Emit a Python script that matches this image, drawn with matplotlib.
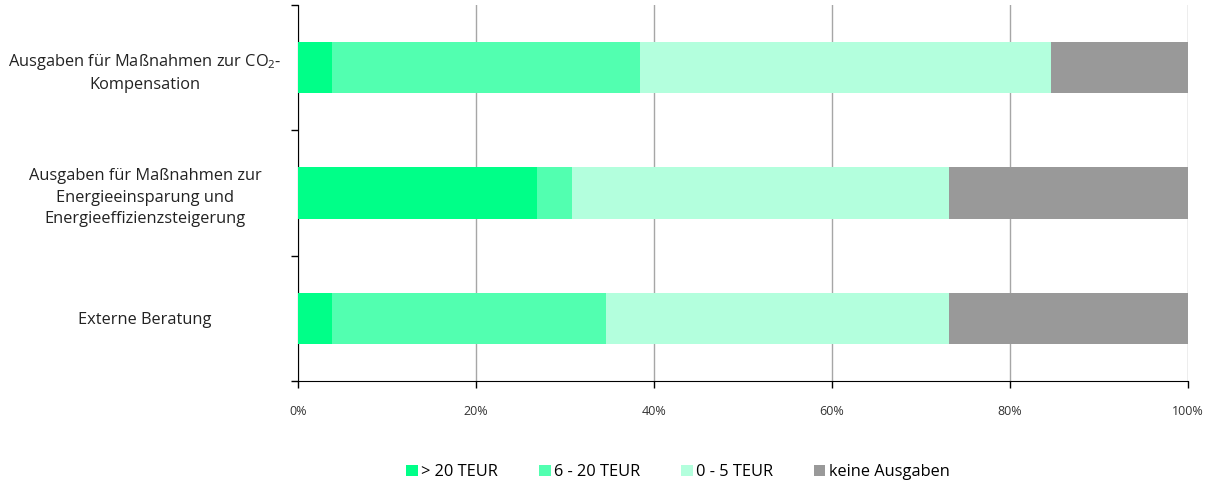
import matplotlib
matplotlib.use("Agg")
from matplotlib import pyplot as plt
import numpy as np

plt.rcParams['font.family'] = ['Open Sans', 'DejaVu Sans']

categories = ['Ausgaben für Maßnahmen zur CO$_\\mathregular{2}$-\nKompensation',
              'Ausgaben für Maßnahmen zur\nEnergieeinsparung und\nEnergieeffizienzsteigerung',
              'Externe Beratung']
series_names = ['> 20 TEUR', '6 - 20 TEUR', '0 - 5 TEUR', 'keine Ausgaben']
over_20 = [3.8, 26.9, 3.8]
from_6_to_20 = [34.6, 3.9, 30.8]
from_0_to_5 = [46.2, 42.3, 38.5]
no_spending = [15.4, 26.9, 26.9]
x_ticks = [0, 20, 40, 60, 80, 100]
x_tick_labels = ['0%', '20%', '40%', '60%', '80%', '100%']

colors = ['#00ff88', '#52ffb0', '#b3ffdd', '#999999']

fig = plt.figure(figsize=(12.07, 4.84), dpi=100)
ax = fig.add_axes([298 / 1207, 1 - 381 / 484, 890 / 1207, 376 / 484])

y = np.arange(len(categories))
left = np.zeros(len(categories))
for vals, name, col in zip([over_20, from_6_to_20, from_0_to_5, no_spending], series_names, colors):
    ax.barh(y, vals, left=left, height=0.41, color=col, label=name, zorder=3)
    left += np.array(vals)

ax.set_xlim(0, 100)
ax.set_ylim(2.5, -0.5)
ax.set_xticks(x_ticks)
ax.set_xticklabels(x_tick_labels, fontsize=9, color='#333333')
ax.tick_params(axis='x', length=5, width=1, direction='out', pad=12)
ax.set_yticks(y)
ax.set_yticklabels(categories, fontsize=11.8, color='#222222', ha='center',
                   multialignment='center', linespacing=1.45)
ax.tick_params(axis='y', which='major', length=0, pad=110)
ax.set_yticks([-0.5, 0.5, 1.5, 2.5], minor=True)
ax.tick_params(axis='y', which='minor', length=5, width=1, direction='out')
ax.xaxis.grid(True, color='#a6a6a6', linewidth=1, zorder=0)
ax.set_axisbelow(True)

for s in ['top', 'right']:
    ax.spines[s].set_visible(False)
ax.spines['left'].set_color('black')
ax.spines['bottom'].set_color('black')

leg = fig.legend(loc='center', bbox_to_anchor=(678 / 1207, 1 - 472 / 484), ncol=4, frameon=False,
                 fontsize=11.8, handlelength=0.7, handleheight=0.7, handletextpad=0.2, columnspacing=2.5)

fig.savefig('out.png', dpi=100)
